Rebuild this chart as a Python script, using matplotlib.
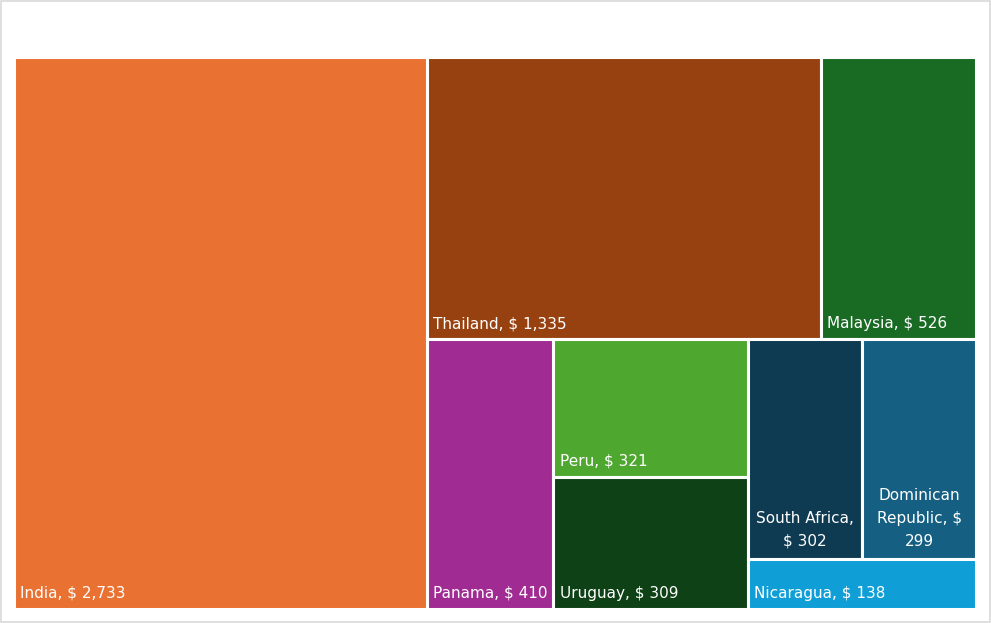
import matplotlib
matplotlib.use("Agg")
import matplotlib.pyplot as plt
from matplotlib.patches import Rectangle

# data
countries = ["India", "Thailand", "Malaysia", "Panama", "Peru", "Uruguay",
             "South Africa", "Dominican Republic", "Nicaragua"]
values = [2733, 1335, 526, 410, 321, 309, 302, 299, 138]
colors = ["#E97132", "#984110", "#196B24", "#A02B93", "#4EA72E", "#0F4117",
          "#0E3A52", "#156082", "#0F9ED5"]

# plot area in pixels
W, H = 962.0, 552.0
TARGET = 0.85  # preferred width/height of a cell


def shape_score(row, side, vertical):
    # worst ratio of a strip of areas laid along 'side'
    thick = sum(row) / side
    worst = 0
    for a in row:
        length = a / thick
        r = thick / length if vertical else length / thick
        worst = max(worst, r / TARGET, TARGET / r)
    return worst


def squarify(vals, x, y, w, h):
    total = float(sum(vals))
    areas = [v * w * h / total for v in vals]
    rects = []
    i = 0
    while i < len(areas):
        vertical = w >= h          # column on the left, else row on top
        side = h if vertical else w
        row = [areas[i]]
        j = i + 1
        while j < len(areas) and shape_score(row + [areas[j]], side, vertical) <= shape_score(row, side, vertical):
            row.append(areas[j])
            j += 1
        thick = sum(row) / side
        pos = y if vertical else x
        for a in row:
            length = a / thick
            if vertical:
                rects.append((x, pos, thick, length))
            else:
                rects.append((pos, y, length, thick))
            pos += length
        if vertical:
            x += thick
            w -= thick
        else:
            y += thick
            h -= thick
        i = j
    return rects


fig = plt.figure(figsize=(9.91, 6.23), dpi=100)
ax = fig.add_axes([14 / 991, 14 / 623, W / 991, H / 623])
ax.set_xlim(0, W)
ax.set_ylim(H, 0)
ax.axis("off")

fig.patches.append(Rectangle((0.001, 0.0015), 0.998, 0.997, transform=fig.transFigure,
                             fill=False, edgecolor="#D9D9D9", linewidth=1.2))

renderer = fig.canvas.get_renderer()
fsize = 11


def text_width(s):
    t = ax.text(0, 0, s, fontsize=fsize)
    wpx = t.get_window_extent(renderer).width
    t.remove()
    return wpx


def wrap(label, avail):
    words = label.split(" ")
    lines = [words[0]]
    for wd in words[1:]:
        trial = lines[-1] + " " + wd
        if text_width(trial) <= avail:
            lines[-1] = trial
        else:
            lines.append(wd)
    return lines


rects = squarify(values, 0, 0, W, H)
for (rx, ry, rw, rh), name, val, col in zip(rects, countries, values, colors):
    ax.add_patch(Rectangle((rx, ry), rw, rh, facecolor=col, edgecolor="white", linewidth=2.2))
    label = f"{name}, $ {val:,}"
    lines = wrap(label, rw - 8)
    if len(lines) == 1:
        ax.text(rx + 6.5, ry + rh - 11, label, color="white", fontsize=fsize,
                ha="left", va="baseline")
    else:
        ax.text(rx + rw / 2, ry + rh - 13, "\n".join(lines), color="white", fontsize=fsize,
                ha="center", va="baseline", multialignment="center", linespacing=1.65)

fig.savefig("out.png", dpi=100)
